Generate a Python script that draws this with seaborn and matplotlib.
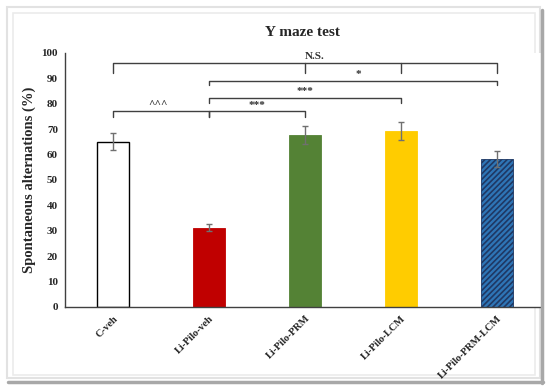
import numpy as np
import pandas as pd
import matplotlib
matplotlib.use('Agg')
import matplotlib.pyplot as plt
import seaborn as sns
from matplotlib.patches import Rectangle
from matplotlib.lines import Line2D

# data
groups = ['C-veh', 'Li-Pilo-veh', 'Li-Pilo-PRM', 'Li-Pilo-LCM', 'Li-Pilo-PRM-LCM']
means = [65.1, 31.2, 67.7, 69.3, 58.3]
sems = [3.2, 1.5, 3.4, 3.4, 3.1]
colors = ['#FFFFFF', '#C00000', '#548235', '#FFCC00', '#2E75B6']
edges = ['#000000', '#C00000', '#548235', '#FFCC00', '#1F3864']

# brackets: (left group, right group, height, drop, label, label x, label y)
brackets = [
    (0, 4, 96.0, 3.8, 'N.S.', 2.1, 97.0),
    (1, 4, 89.1, 1.9, '*', 2.55, 89.6),
    (1, 3, 82.3, 1.9, '***', 2.0, 82.9),
    (0, 1, 77.2, 2.4, '^^^', 0.47, 78.0),
    (1, 2, 77.2, 2.4, '***', 1.5, 77.6),
]
inner_ticks = [2, 3]

df = pd.DataFrame({'group': groups, 'mean': means, 'sem': sems})

sns.set_style('white')
plt.rcParams['font.family'] = ['Liberation Serif', 'DejaVu Serif']
plt.rcParams['hatch.linewidth'] = 1.2

fig = plt.figure(figsize=(5.5, 3.89), dpi=100)
ax = fig.add_axes([0.118, 0.211, 0.865, 0.653])

sns.barplot(data=df, x='group', y='mean', hue='group', palette=colors,
            legend=False, width=0.333, ax=ax, saturation=1, errorbar=None)

for i, p in enumerate(ax.patches):
    p.set_edgecolor(edges[i])
    p.set_linewidth(1.0 if i == 0 else 0.6)
ax.patches[4].set_hatch('//////')

ax.errorbar(np.arange(len(groups)), means, yerr=sems, fmt='none',
            ecolor='#707070', elinewidth=1, capsize=2.5, capthick=1)

# significance brackets
for l, r, h, d, txt, tx, ty in brackets:
    ax.plot([l, l, r, r], [h - d, h, h, h - d], color='#404040', lw=1)
    ax.text(tx, ty, txt, ha='center', va='bottom', fontsize=8, fontweight='bold',
            color='#303030')
for m in inner_ticks:
    ax.plot([m, m], [96.0, 96.0 - 3.8], color='#404040', lw=1)

ax.set_ylim(0, 100)
ax.set_xlim(-0.5, 4.45)
ax.set_yticks(range(0, 101, 10))
ax.set_yticklabels([str(v) for v in range(0, 101, 10)], fontsize=8, fontweight='bold')
ax.set_xticks(range(len(groups)))
ax.set_xticklabels(groups, rotation=45, ha='right', rotation_mode='anchor',
                   fontsize=7.5, fontweight='bold')
ax.tick_params(axis='y', direction='out', length=3, width=1, color='#404040', pad=2)
ax.tick_params(axis='x', length=0, pad=5)
ax.set_xlabel('')
ax.set_ylabel('Spontaneous alternations (%)', fontsize=10.5, fontweight='bold', labelpad=4)
ax.set_title('Y maze test', fontsize=11, fontweight='bold', pad=12)

for s in ['top', 'right']:
    ax.spines[s].set_visible(False)
for s in ['left', 'bottom']:
    ax.spines[s].set_color('#404040')
    ax.spines[s].set_linewidth(1)

# picture frame with shadow (pixel coords converted to figure fractions)
W, H = 550, 389
def fx(px):
    return px / W
def fy(py):
    return 1 - py / H

fig.patches.append(Rectangle((fx(7), fy(378)), fx(533), 371 / H,
                             transform=fig.transFigure, fill=False,
                             edgecolor='#E2E2E2', lw=1.5, zorder=-1))
fig.patches.append(Rectangle((fx(13), fy(375)), fx(522), 362 / H,
                             transform=fig.transFigure, fill=False,
                             edgecolor='#EBEBEB', lw=1.2, zorder=-1))
fig.lines.append(Line2D([fx(542), fx(542)], [fy(10), fy(383)],
                        transform=fig.transFigure, color='#A8A8A8', lw=2.5))
fig.lines.append(Line2D([fx(8), fx(543)], [fy(381.5), fy(381.5)],
                        transform=fig.transFigure, color='#A8A8A8', lw=2.5))

fig.savefig('out.png', dpi=100)
